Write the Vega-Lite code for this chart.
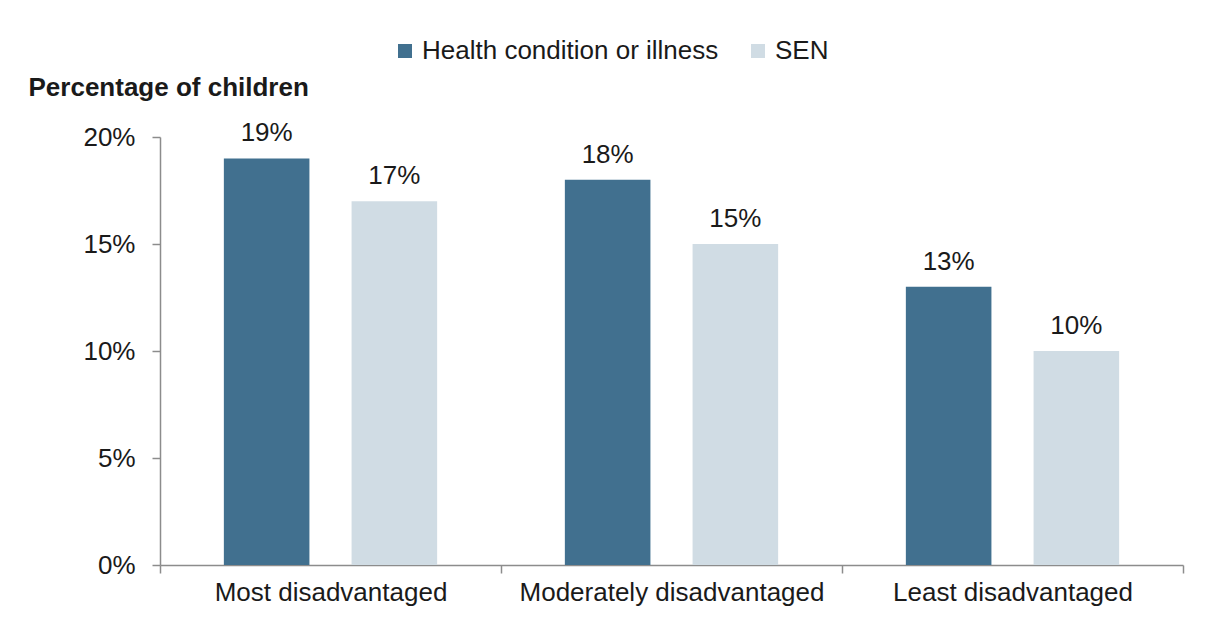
{
  "$schema": "https://vega.github.io/schema/vega-lite/v6.json",
  "width": 1023,
  "height": 428,
  "autosize": {"type": "none"},
  "padding": {"left": 160, "top": 137, "right": 23, "bottom": 58},
  "background": "white",
  "config": {
    "font": "Liberation Sans",
    "view": {"stroke": null},
    "axis": {"labelFont": "Liberation Sans", "titleFont": "Liberation Sans"},
    "legend": {"labelFont": "Liberation Sans"}
  },
  "data": {
    "values": [
      {"group": "Most disadvantaged", "measure": "Health condition or illness", "pct": 19, "label": "19%"},
      {"group": "Most disadvantaged", "measure": "SEN", "pct": 17, "label": "17%"},
      {"group": "Moderately disadvantaged", "measure": "Health condition or illness", "pct": 18, "label": "18%"},
      {"group": "Moderately disadvantaged", "measure": "SEN", "pct": 15, "label": "15%"},
      {"group": "Least disadvantaged", "measure": "Health condition or illness", "pct": 13, "label": "13%"},
      {"group": "Least disadvantaged", "measure": "SEN", "pct": 10, "label": "10%"}
    ]
  },
  "encoding": {
    "x": {
      "field": "group",
      "type": "nominal",
      "sort": ["Most disadvantaged", "Moderately disadvantaged", "Least disadvantaged"],
      "scale": {"paddingInner": 0, "paddingOuter": 0},
      "axis": {
        "title": null,
        "labelAngle": 0,
        "labelFontSize": 26,
        "labelLimit": 0,
        "labelColor": "#1a1a1a",
        "labelPadding": 6,
        "tickBand": "extent",
        "tickSize": 8,
        "tickColor": "#8c8c8c",
        "domainColor": "#8c8c8c",
        "domainWidth": 1.5,
        "tickWidth": 1.5,
        "grid": false
      }
    },
    "xOffset": {
      "field": "measure",
      "type": "nominal",
      "sort": ["Health condition or illness", "SEN"],
      "scale": {"paddingInner": 0.33, "paddingOuter": 0.5}
    },
    "y": {
      "field": "pct",
      "type": "quantitative",
      "scale": {"domain": [0, 20], "nice": false},
      "axis": {
        "values": [0, 5, 10, 15, 20],
        "labelExpr": "datum.value + '%'",
        "labelFontSize": 26,
        "labelColor": "#1a1a1a",
        "labelPadding": 17,
        "tickSize": 8,
        "tickColor": "#8c8c8c",
        "domainColor": "#8c8c8c",
        "domainWidth": 1.5,
        "tickWidth": 1.5,
        "grid": false,
        "title": "Percentage of children",
        "titleAngle": 0,
        "titleAlign": "left",
        "titleBaseline": "alphabetic",
        "titleX": -132,
        "titleY": -42,
        "titleFontSize": 26,
        "titleFontWeight": "bold",
        "titleColor": "#1a1a1a",
        "titleLimit": 0
      }
    }
  },
  "layer": [
    {
      "mark": {"type": "bar"},
      "encoding": {
        "color": {
          "field": "measure",
          "type": "nominal",
          "sort": ["Health condition or illness", "SEN"],
          "scale": {"domain": ["Health condition or illness", "SEN"], "range": ["#41708f", "#d0dce4"]},
          "legend": {
            "title": null,
            "orient": "none",
            "direction": "horizontal",
            "legendX": 232,
            "legendY": -99,
            "symbolType": "square",
            "symbolSize": 196,
            "symbolStrokeWidth": 0,
            "labelFontSize": 26,
            "labelLimit": 0,
            "labelColor": "#1a1a1a",
            "labelOffset": 4,
            "columnPadding": 26,
            "padding": 0
          }
        }
      }
    },
    {
      "mark": {"type": "text", "baseline": "alphabetic", "dy": -17, "fontSize": 26, "color": "#1a1a1a"},
      "encoding": {
        "text": {"field": "label", "type": "nominal"},
        "detail": {"field": "measure"}
      }
    }
  ]
}
